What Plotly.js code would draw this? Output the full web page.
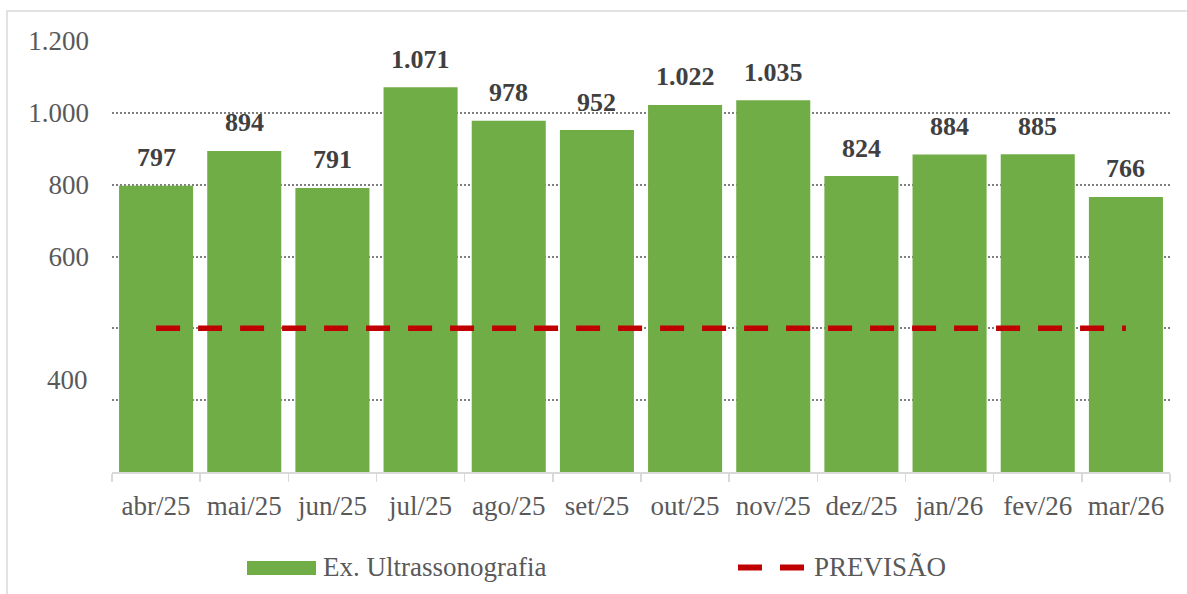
<!DOCTYPE html>
<html><head><meta charset="utf-8">
<script src="https://cdn.plot.ly/plotly-3.0.1.min.js"></script>
<style>html,body{margin:0;padding:0;background:#fff;}#chart{width:1187px;height:594px;}</style>
</head><body><div id="chart"></div>
<script>
const months = ['abr/25','mai/25','jun/25','jul/25','ago/25','set/25','out/25','nov/25','dez/25','jan/26','fev/26','mar/26'];
const exames = [797, 894, 791, 1071, 978, 952, 1022, 1035, 824, 884, 885, 766];
const previsao = [400, 400, 400, 400, 400, 400, 400, 400, 400, 400, 400, 400];
const yTickVals = [200, 400, 600, 800, 1000, 1200];
const yTickText = ['', '', '600', '800', '1.000', '1.200'];
const barName = 'Ex. Ultrassonografia';
const lineName = 'PREVISÃO';

const fmt = v => String(v).replace(/\B(?=(\d{3})+(?!\d))/g, '.');
const FONT = '"Liberation Serif", "Times New Roman", serif';
const GREEN = '#70AD47', RED = '#C00000', GREY = '#595959';

// pixel helpers for paper coords (plot area 112..1170 x, 41..472 y)
const L = 112, R = 1170, T = 41, B = 472;
const px = x => (x - L) / (R - L);
const py = y => (B - y) / (B - T);

const traces = [
  {type: 'bar', x: months, y: exames, name: barName, marker: {color: GREEN}, showlegend: false, hoverinfo: 'x+y'},
  {type: 'scatter', mode: 'lines', x: months, y: previsao, name: lineName, showlegend: false,
   line: {color: RED, width: 5.5, dash: '24px,18px'}}
];

const annotations = months.map((m, i) => ({
  x: m, y: exames[i], xref: 'x', yref: 'y', text: '<b>' + fmt(exames[i]) + '</b>',
  showarrow: false, yanchor: 'middle', yshift: 28,
  font: {family: FONT, size: 26, color: '#404040'}
}));
annotations.push({xref: 'paper', yref: 'y', x: px(90), y: 256, xanchor: 'right', yanchor: 'middle',
  text: '400', showarrow: false, font: {family: FONT, size: 27, color: GREY}});
annotations.push({xref: 'paper', yref: 'paper', x: px(321), y: py(567), xanchor: 'left', yanchor: 'middle',
  text: barName, showarrow: false, font: {family: FONT, size: 27, color: GREY}});
annotations.push({xref: 'paper', yref: 'paper', x: px(812), y: py(567), xanchor: 'left', yanchor: 'middle',
  text: lineName, showarrow: false, font: {family: FONT, size: 27, color: GREY}});

const shapes = [
  {type: 'rect', xref: 'paper', yref: 'paper', x0: px(7), x1: px(1200), y0: py(11), y1: py(610),
   line: {color: '#D9D9D9', width: 1.5}, fillcolor: 'rgba(0,0,0,0)', layer: 'below'},
  {type: 'rect', xref: 'paper', yref: 'paper', x0: px(247), x1: px(316), y0: py(561), y1: py(575),
   line: {width: 0}, fillcolor: GREEN},
  {type: 'line', xref: 'paper', yref: 'paper', x0: px(738), x1: px(762), y0: py(567.5), y1: py(567.5),
   line: {color: RED, width: 6}},
  {type: 'line', xref: 'paper', yref: 'paper', x0: px(780), x1: px(804), y0: py(567.5), y1: py(567.5),
   line: {color: RED, width: 6}}
];

const layout = {
  width: 1187, height: 594,
  margin: {l: L, r: 1187 - R, t: T, b: 594 - B, pad: 0},
  paper_bgcolor: '#fff', plot_bgcolor: '#fff',
  bargap: 0.16,
  showlegend: false,
  font: {family: FONT, color: GREY, size: 27},
  xaxis: {type: 'category', showline: true, linecolor: '#D9D9D9', linewidth: 1.5,
    ticks: 'outside', tickson: 'boundaries', ticklen: 8, tickcolor: '#D9D9D9', tickwidth: 1.5,
    showgrid: false, tickfont: {family: FONT, size: 27, color: GREY}, ticklabelstandoff: 9},
  yaxis: {range: [0, 1200], tickvals: yTickVals, ticktext: yTickText, showgrid: true,
    gridcolor: '#7F7F7F', gridwidth: 2, griddash: '2px,2px', zeroline: false, showline: false,
    ticks: '', tickfont: {family: FONT, size: 27, color: GREY}, ticklabelstandoff: 22},
  annotations: annotations,
  shapes: shapes
};

Plotly.newPlot('chart', traces, layout, {displayModeBar: false, staticPlot: true});
</script></body></html>
